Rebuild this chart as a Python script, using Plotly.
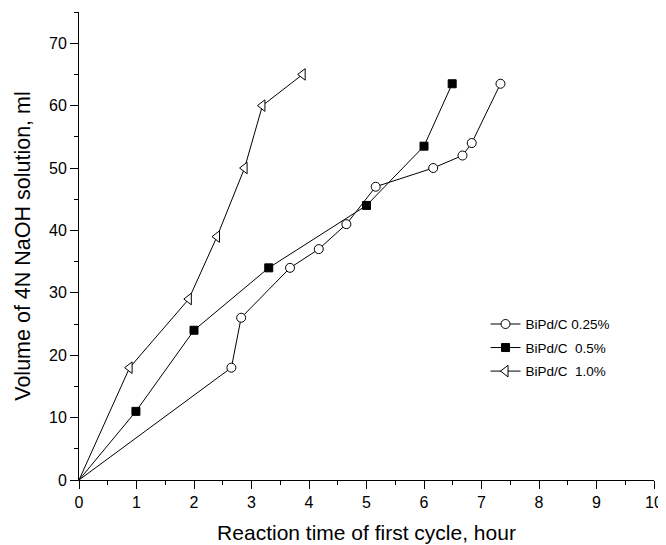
import plotly.graph_objects as go

# Data
t_025 = [0, 2.65, 2.82, 3.67, 4.17, 4.65, 5.16, 6.16, 6.67, 6.83, 7.33]
v_025 = [0, 18, 26, 34, 37, 41, 47, 50, 52, 54, 63.5]

t_05 = [0, 0.99, 2.0, 3.3, 5.0, 6.0, 6.49]
v_05 = [0, 11, 24, 34, 44, 53.5, 63.5]

t_10 = [0, 0.88, 1.91, 2.4, 2.88, 3.19, 3.89]
v_10 = [0, 18, 29, 39, 50, 60, 65]

names = ["BiPd/C 0.25%", "BiPd/C\u00a0\u00a00.5%", "BiPd/C\u00a0\u00a01.0%"]
x_ticks = list(range(0, 11))
y_ticks = list(range(0, 71, 10))

FONT = "Liberation Sans, Arial, sans-serif"

fig = go.Figure()

def add(xs, ys, name, symbol, size, fill, group):
    # segment from origin (no marker drawn at origin)
    fig.add_trace(go.Scatter(
        x=xs[:2], y=ys[:2], mode="lines", showlegend=False,
        line=dict(color="black", width=1), hoverinfo="skip",
        legendgroup=group,
    ))
    fig.add_trace(go.Scatter(
        x=xs[1:], y=ys[1:], name=name, mode="lines+markers",
        line=dict(color="black", width=1),
        marker=dict(symbol=symbol, size=size, color=fill,
                    line=dict(color="black", width=1)),
        cliponaxis=False, legendgroup=group,
    ))

add(t_025, v_025, names[0], "circle", 9, "white", "a")
add(t_05, v_05, names[1], "square", 8, "black", "b")
add(t_10, v_10, names[2], "triangle-left", 10, "white", "c")

fig.update_layout(
    width=658, height=537,
    margin=dict(l=71, r=12, t=4, b=65),
    paper_bgcolor="white", plot_bgcolor="white",
    font=dict(family=FONT, color="black", size=16),
    showlegend=True,
    legend=dict(x=0.707, y=0.366, xanchor="left", yanchor="top",
                bgcolor="rgba(0,0,0,0)", borderwidth=0,
                font=dict(size=13.5), tracegroupgap=3),
    xaxis=dict(
        range=[0, 10], tickvals=x_ticks, ticktext=[str(v) for v in x_ticks],
        showgrid=False, zeroline=False, showline=True, linecolor="black",
        linewidth=1, ticks="outside", ticklen=8, tickcolor="black",
        minor=dict(dtick=0.5, ticks="outside", ticklen=4, tickcolor="black"),
        title=dict(text="Reaction time of first cycle, hour",
                   font=dict(size=21), standoff=15),
        tickfont=dict(size=16), automargin=False,
    ),
    yaxis=dict(
        range=[0, 75], tickvals=y_ticks, ticktext=[str(v) for v in y_ticks],
        showgrid=False, zeroline=False, showline=True, linecolor="black",
        linewidth=1, ticks="outside", ticklen=8, tickcolor="black",
        minor=dict(dtick=5, ticks="outside", ticklen=4, tickcolor="black"),
        title=dict(text="Volume of 4N NaOH solution, ml",
                   font=dict(size=21.5), standoff=12),
        tickfont=dict(size=16), automargin=False,
    ),
)

fig.write_html("out.html")
